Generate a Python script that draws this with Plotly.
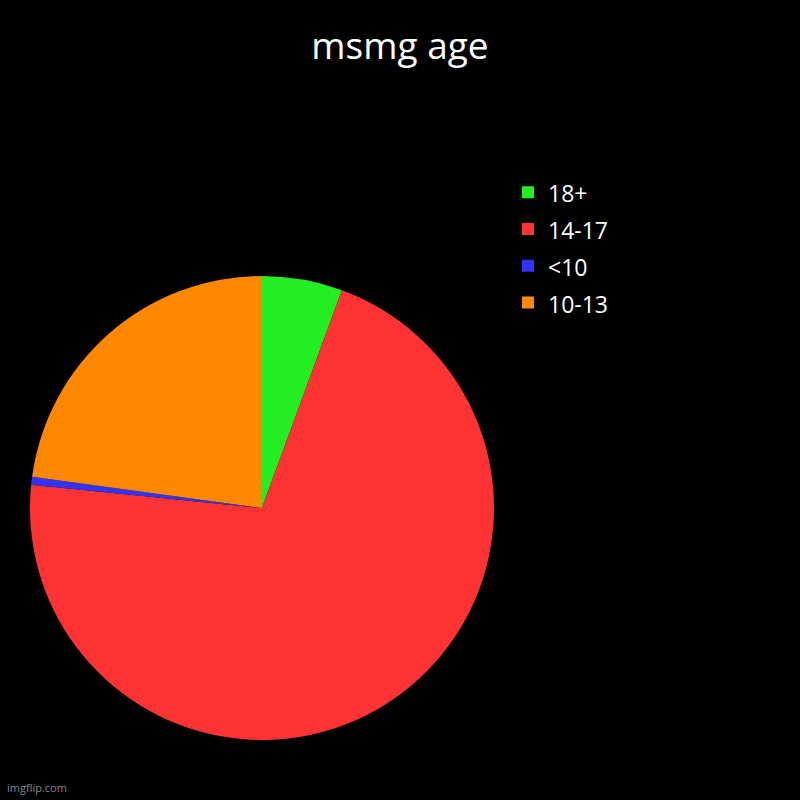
import plotly.graph_objects as go

labels = ["18+", "14-17", "<10", "10-13"]
values = [5.6, 71.0, 0.55, 22.85]
colors = ["#22EE22", "#FF3333", "#3333FF", "#FF8800"]

legend_labels = [f"<span style='font-size:23px'>{lab}</span>" for lab in labels]

fig = go.Figure(go.Pie(
    labels=legend_labels,
    values=values,
    sort=False,
    direction="clockwise",
    rotation=0,
    textinfo="none",
    hoverinfo="label+percent",
    marker=dict(colors=colors, line=dict(width=0)),
    domain=dict(x=[0.0375, 0.6175], y=[0.075, 0.655]),
))

fig.update_layout(
    width=800, height=800,
    paper_bgcolor="#000000",
    plot_bgcolor="#000000",
    margin=dict(l=0, r=0, t=0, b=0),
    font=dict(family="Open Sans", color="#FFFFFF"),
    title=dict(text="msmg age", x=0.5, xanchor="center", y=0.943, yanchor="middle",
               font=dict(size=37, color="#FFFFFF", family="Open Sans")),
    legend=dict(x=0.635, y=0.789, xanchor="left", yanchor="top",
                font=dict(size=26, color="#FFFFFF"), tracegroupgap=0,
                bgcolor="rgba(0,0,0,0)"),
    showlegend=True,
    annotations=[dict(text="imgflip.com", x=0.006, y=0.004, xref="paper", yref="paper",
                      xanchor="left", yanchor="bottom", showarrow=False,
                      font=dict(size=11, color="#888888", family="Open Sans"))],
)

fig.write_html("out.html", config={"displayModeBar": False},
               post_script="document.body.style.margin='0';")
